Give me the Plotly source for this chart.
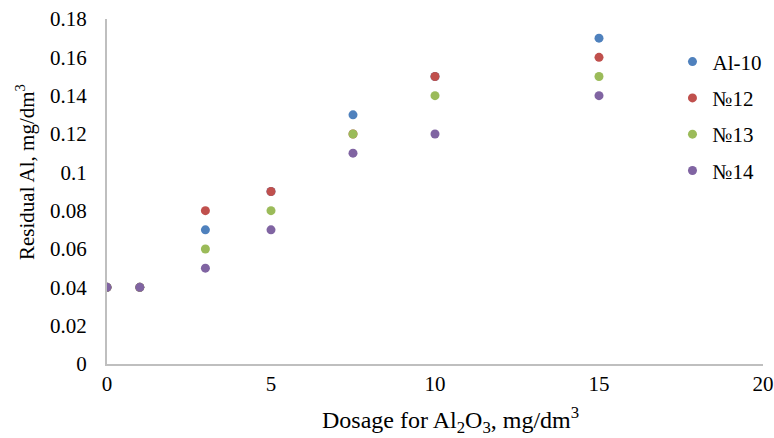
import plotly.graph_objects as go

dosage = [0, 1, 3, 5, 7.5, 10, 15]
al10 = [0.04, 0.04, 0.07, 0.09, 0.13, 0.15, 0.17]
n12 = [0.04, 0.04, 0.08, 0.09, 0.12, 0.15, 0.16]
n13 = [0.04, 0.04, 0.06, 0.08, 0.12, 0.14, 0.15]
n14 = [0.04, 0.04, 0.05, 0.07, 0.11, 0.12, 0.14]

series = [("Al-10", al10, "#4F81BD"), ("№12", n12, "#C0504D"),
          ("№13", n13, "#9BBB59"), ("№14", n14, "#8064A2")]

fig = go.Figure()
for name, ys, col in series:
    fig.add_trace(go.Scatter(x=dosage, y=ys, mode="markers", name=name, legendgroup=name,
                             marker=dict(color=col, size=9, line=dict(width=0))))

FAM = "Liberation Serif"
tickfont = dict(family=FAM, size=21, color="#000000")
legfont = dict(family=FAM, size=21, color="#000000")

fig.update_layout(
    width=774, height=438, margin=dict(l=107, r=11, t=19, b=74, autoexpand=False),
    paper_bgcolor="white", plot_bgcolor="white", font=tickfont,
    showlegend=True,
    legend=dict(x=0.862, y=0.935, xanchor="left", yanchor="top", bgcolor="rgba(0,0,0,0)",
                font=legfont, itemwidth=30, tracegroupgap=6),
    xaxis=dict(range=[0, 20], dtick=5, showgrid=False, zeroline=False, automargin=False,
               showline=True, linecolor="#BFBFBF", linewidth=2, ticks="",
               tickfont=tickfont),
    yaxis=dict(range=[0, 0.18], dtick=0.02, showgrid=False, zeroline=False, automargin=False,
               showline=True, linecolor="#BFBFBF", linewidth=2, ticks="",
               tickfont=tickfont, ticklabelstandoff=14),
    annotations=[
        dict(text="Dosage for Al<sub>2</sub>O<sub>3</sub>, mg/dm<sup>3</sup>",
             xref="paper", yref="paper", x=(450 - 107) / 656, y=-(420 - 364) / 345,
             xanchor="center", yanchor="middle", showarrow=False,
             font=dict(family=FAM, size=24, color="#000000")),
        dict(text="Residual Al, mg/dm<sup>3</sup>", textangle=-90,
             xref="paper", yref="paper", x=-(107 - 25) / 656, y=(364 - 172) / 345,
             xanchor="center", yanchor="middle", showarrow=False,
             font=dict(family=FAM, size=21, color="#000000")),
    ],
)
fig.write_html("out.html")
